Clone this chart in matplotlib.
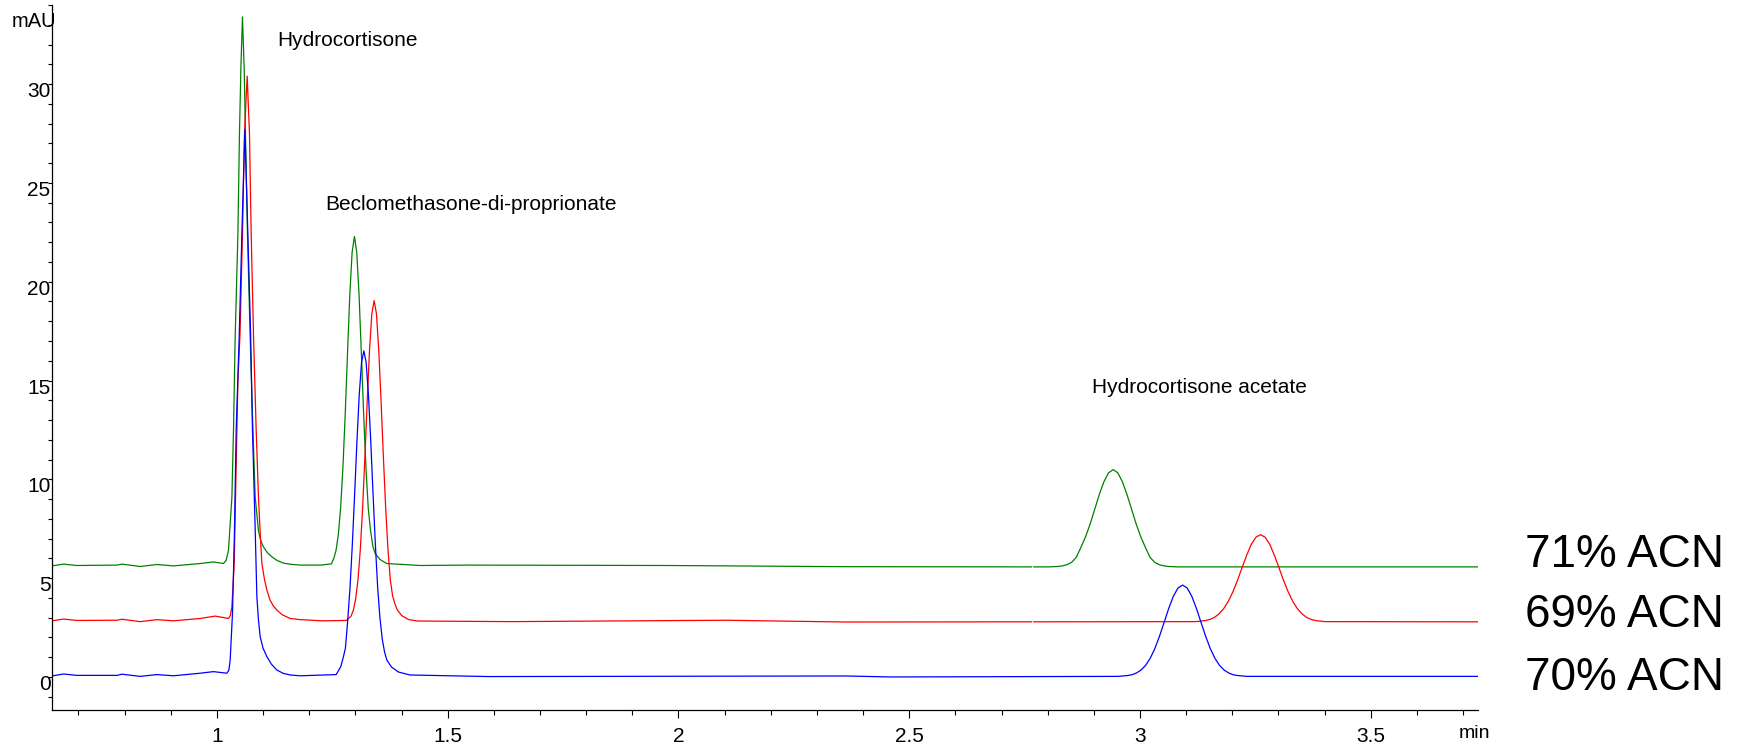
import numpy as np
import matplotlib
matplotlib.use("Agg")
import matplotlib.pyplot as plt
from matplotlib.ticker import MultipleLocator, FormatStrFormatter
from matplotlib.transforms import ScaledTranslation

plt.rcParams['font.family'] = ['Liberation Sans', 'DejaVu Sans']

# 71% ACN trace (green) (min, mAU)
t_green = [0.6426, 0.6678, 0.6968, 0.7834, 0.7942, 0.8339, 0.8700, 0.9060, 0.9638, 0.9926,
           1.0143, 1.0200, 1.0251, 1.0325, 1.0360, 1.0396, 1.0455, 1.0489, 1.0520, 1.0554,
           1.0591, 1.0619, 1.0663, 1.0721, 1.0780, 1.0830, 1.0901, 1.0950, 1.1009, 1.1100,
           1.1191, 1.1300, 1.1442, 1.1600, 1.1804, 1.2237,
           1.2480, 1.2530, 1.2580, 1.2630, 1.2680, 1.2730, 1.2780, 1.2830, 1.2880, 1.2930,
           1.2980, 1.3030, 1.3080, 1.3130, 1.3180, 1.3230, 1.3280, 1.3330, 1.3380, 1.3430,
           1.3530, 1.3680, 1.4403,
           1.542, 1.977, 2.363, 2.765, 2.767, 2.770,
           2.8019, 2.8219, 2.8319, 2.8419, 2.8519, 2.8619, 2.8719, 2.8819, 2.8919, 2.9019,
           2.9119, 2.9219, 2.9319, 2.9419, 2.9519, 2.9619, 2.9719, 2.9819, 2.9919, 3.0019,
           3.0119, 3.0219, 3.0319, 3.0419, 3.0519, 3.0619, 3.0819, 3.7318]
v_green = [5.62, 5.71, 5.64, 5.66, 5.71, 5.59, 5.69, 5.62, 5.74, 5.82,
           5.74, 5.90, 6.41, 9.1, 12.5, 17.2, 22.4, 27.5, 30.8, 33.4,
           30.8, 27.5, 22.4, 17.2, 12.5, 9.1, 7.4, 6.9, 6.58, 6.27,
           6.08, 5.90, 5.76, 5.70, 5.66, 5.66,
           5.72, 5.98, 6.39, 7.18, 8.52, 10.57, 13.28, 16.37, 19.35, 21.49,
           22.29, 21.49, 19.35, 16.37, 13.28, 10.57, 8.52, 7.40, 6.60, 6.25,
           5.95, 5.74, 5.64,
           5.66, 5.64, 5.58, 5.57, np.nan, 5.57,
           5.57, 5.59, 5.62, 5.68, 5.80, 6.05, 6.55, 7.08, 7.73, 8.48,
           9.23, 9.88, 10.33, 10.49, 10.33, 9.88, 9.23, 8.48, 7.73, 7.08,
           6.55, 6.05, 5.80, 5.68, 5.62, 5.59, 5.57, 5.57]

# 69% ACN trace (red)
t_red = [0.6426, 0.6678, 0.6968, 0.7834, 0.7942, 0.8339, 0.8700, 0.9060, 0.9638, 0.9963,
         1.0251, 1.0290, 1.0325, 1.0375, 1.0418, 1.0455, 1.0500, 1.0554, 1.0598, 1.0656,
         1.0706, 1.0743, 1.0793, 1.0851, 1.0901, 1.0940, 1.0975, 1.1030, 1.1083, 1.1150,
         1.1220, 1.1300, 1.1420, 1.1588, 1.1804, 1.2300,
         1.2807, 1.2907, 1.2957, 1.3007, 1.3057, 1.3107, 1.3157, 1.3207, 1.3257, 1.3307,
         1.3357, 1.3407, 1.3457, 1.3507, 1.3557, 1.3607, 1.3657, 1.3707, 1.3757, 1.3807,
         1.3857, 1.3907, 1.4007, 1.4157, 1.4358,
         1.639, 2.103, 2.363, 2.765, 2.767, 2.770,
         3.1212, 3.1412, 3.1512, 3.1612, 3.1712, 3.1812, 3.1912, 3.2012, 3.2112, 3.2212,
         3.2312, 3.2412, 3.2512, 3.2612, 3.2712, 3.2812, 3.2912, 3.3012, 3.3112, 3.3212,
         3.3312, 3.3412, 3.3512, 3.3612, 3.3712, 3.3812, 3.4012, 3.7318]
v_red = [2.84, 2.93, 2.86, 2.87, 2.92, 2.80, 2.90, 2.84, 2.96, 3.08,
         2.96, 3.10, 3.55, 5.74, 10.8, 15.0, 17.3, 22.4, 27.5, 30.4,
         27.5, 22.4, 17.3, 12.5, 9.1, 7.2, 5.74, 4.95, 4.39, 3.90,
         3.60, 3.38, 3.14, 2.96, 2.90, 2.84,
         2.86, 3.08, 3.38, 3.95, 4.92, 6.43, 8.54, 11.15, 13.97, 16.54,
         18.38, 19.04, 18.38, 16.54, 13.97, 11.15, 8.54, 6.43, 4.92, 4.10,
         3.70, 3.40, 3.10, 2.90, 2.83,
         2.80, 2.87, 2.78, 2.79, np.nan, 2.79,
         2.80, 2.85, 2.91, 3.01, 3.19, 3.45, 3.82, 4.30, 4.88, 5.53,
         6.16, 6.71, 7.07, 7.20, 7.07, 6.71, 6.16, 5.53, 4.88, 4.30,
         3.82, 3.45, 3.19, 3.01, 2.91, 2.85, 2.80, 2.79]

# 70% ACN trace (blue)
t_blue = [0.6426, 0.6678, 0.6968, 0.7834, 0.7942, 0.8339, 0.8700, 0.9060, 0.9638, 0.9926,
          1.0217, 1.0260, 1.0288, 1.0338, 1.0381, 1.0418, 1.0483, 1.0541, 1.0606, 1.0671,
          1.0732, 1.0771, 1.0830, 1.0866, 1.0900, 1.0938, 1.1000, 1.1083, 1.1180, 1.1300,
          1.1440, 1.1588, 1.1804, 1.2584,
          1.2684, 1.2734, 1.2784, 1.2834, 1.2884, 1.2934, 1.2984, 1.3034, 1.3084, 1.3134,
          1.3184, 1.3234, 1.3284, 1.3334, 1.3384, 1.3434, 1.3484, 1.3534, 1.3584, 1.3634,
          1.3684, 1.3784, 1.3934, 1.4187,
          1.590, 2.363, 2.46,
          2.9523, 2.9723, 2.9823, 2.9923, 3.0023, 3.0123, 3.0223, 3.0323, 3.0423, 3.0523,
          3.0623, 3.0723, 3.0823, 3.0923, 3.1023, 3.1123, 3.1223, 3.1323, 3.1423, 3.1523,
          3.1623, 3.1723, 3.1823, 3.1923, 3.2023, 3.2123, 3.2323, 3.63, 3.7318]
v_blue = [0.05, 0.15, 0.08, 0.08, 0.14, 0.03, 0.12, 0.06, 0.19, 0.27,
          0.19, 0.35, 0.86, 3.22, 7.42, 12.5, 17.2, 22.4, 27.7, 22.4,
          17.2, 12.5, 7.42, 4.06, 2.9, 2.04, 1.45, 1.03, 0.65, 0.35,
          0.18, 0.10, 0.06, 0.12,
          0.52, 0.95, 1.45, 2.84, 4.51, 6.68, 9.23, 11.91, 14.27, 15.91,
          16.5, 15.91, 14.27, 11.91, 9.23, 6.68, 4.51, 2.95, 1.90, 1.25,
          0.85, 0.50, 0.25, 0.10,
          0.02, 0.05, 0.0,
          0.03, 0.07, 0.11, 0.20, 0.35, 0.59, 0.95, 1.44, 2.06, 2.76,
          3.47, 4.08, 4.50, 4.65, 4.50, 4.08, 3.47, 2.76, 2.06, 1.44,
          0.95, 0.59, 0.35, 0.20, 0.11, 0.07, 0.03, 0.03, 0.03]

peak_names = ["Hydrocortisone", "Beclomethasone-di-proprionate", "Hydrocortisone acetate"]
peak_label_t = [1.130, 1.2346, 2.895]
peak_label_v = [31.92, 23.62, 14.37]

trace_names = ["71% ACN", "69% ACN", "70% ACN"]
x_ticks = [1, 1.5, 2, 2.5, 3, 3.5]
y_ticks = [0, 5, 10, 15, 20, 25, 30]

fig = plt.figure(figsize=(17.43, 7.46), dpi=100)
ax = fig.add_axes([0.0298, 0.0483, 0.818, 0.945])

ax.plot(t_green, v_green, color='#008000', lw=0.9)
ax.plot(t_red, v_red, color='#ff0000', lw=0.9)
ax.plot(t_blue, v_blue, color='#0000ff', lw=0.9)

ax.set_xlim(0.6426, 3.7318)
ax.set_ylim(-1.67, 34.0)

for s in ['top', 'right']:
    ax.spines[s].set_visible(False)
for s in ['left', 'bottom']:
    ax.spines[s].set_linewidth(0.9)

ax.set_xticks(x_ticks)
ax.xaxis.set_major_formatter(FormatStrFormatter('%g'))
ax.xaxis.set_minor_locator(MultipleLocator(0.1))
ax.set_yticks(y_ticks)
ax.yaxis.set_minor_locator(MultipleLocator(1))

ax.tick_params(axis='x', which='major', length=6, width=0.8, pad=6, labelsize=15)
ax.tick_params(axis='x', which='minor', length=3.5, width=0.8)
ax.tick_params(axis='y', which='major', length=3, width=0.8, pad=-2, labelsize=15)
ax.tick_params(axis='y', which='minor', length=3, width=0.8)
up = ScaledTranslation(0, 2 / 100, fig.dpi_scale_trans)
for tk in ax.yaxis.get_major_ticks():
    tk.label1.set_verticalalignment('top')
    tk.label1.set_transform(tk.label1.get_transform() + up)

for name, t, v in zip(peak_names, peak_label_t, peak_label_v):
    ax.text(t, v, name, fontsize=15, ha='left', va='baseline')

fig.text(0.0195, 0.971, "mAU", fontsize=14.5, ha='center', va='center')
fig.text(0.846, 0.0174, "min", fontsize=14, ha='center', va='center')

label_y = [0.2404, 0.1600, 0.0755]
for name, y in zip(trace_names, label_y):
    fig.text(0.8749, y, name, fontsize=33, ha='left', va='baseline')

fig.savefig("out.png", dpi=100)
